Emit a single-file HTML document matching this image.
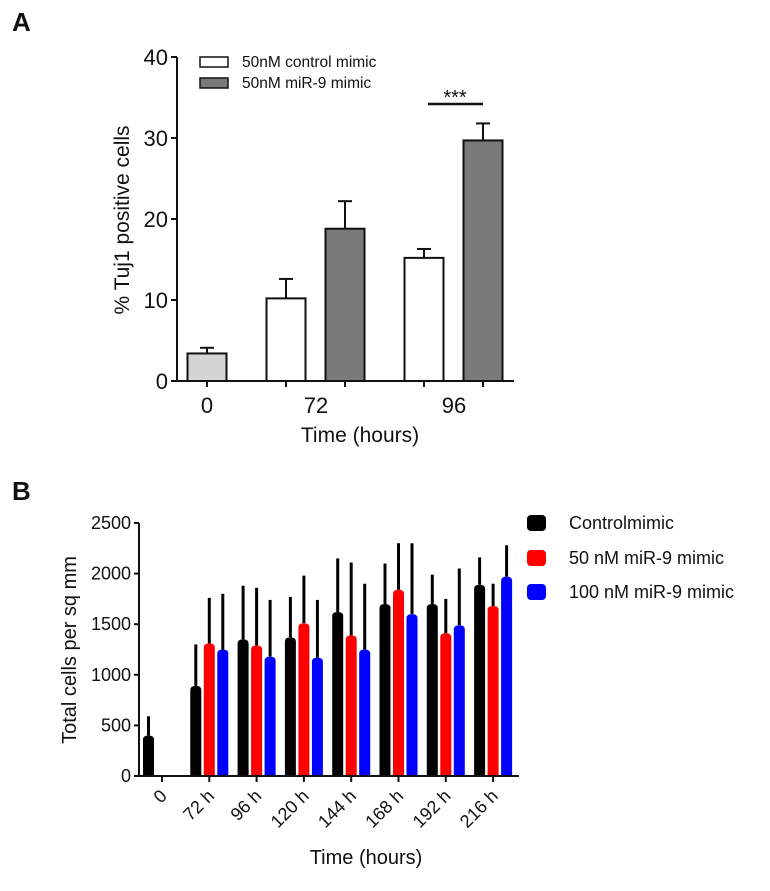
<!DOCTYPE html>
<html><head><meta charset="utf-8"><style>
body{margin:0;background:#fff;}
svg text{font-family:"Liberation Sans",Arial,sans-serif;fill:#111;}
</style></head><body>
<svg id="chart" width="770" height="886" viewBox="0 0 770 886" xmlns="http://www.w3.org/2000/svg">
<text x="12" y="31" font-size="26" font-weight="bold">A</text>
<text x="12" y="500" font-size="26" font-weight="bold">B</text>
<g id="pa"></g>
<g id="pb"></g>
</svg>
<script>
// Panel A data
const aCategories=["0","72","96"];
const aControl=[3.4,10.2,15.2];
const aControlErr=[4.1,12.6,16.3];
const aMir=[null,18.8,29.7];
const aMirErr=[null,22.2,31.8];
const aTicks=[0,10,20,30,40];
// Panel B data
const bCategories=["0","72 h","96 h","120 h","144 h","168 h","192 h","216 h"];
const bControl=[400,890,1350,1370,1620,1700,1700,1890];
const bControlErr=[590,1300,1880,1770,2150,2100,1990,2160];
const b50=[null,1310,1290,1510,1390,1840,1410,1680];
const b50Err=[null,1760,1860,1980,2110,2300,1750,1900];
const b100=[null,1250,1180,1170,1250,1600,1490,1970];
const b100Err=[null,1800,1740,1740,1900,2300,2050,2280];
const bTicks=[0,500,1000,1500,2000,2500];

const NS="http://www.w3.org/2000/svg";
function mk(p,t,a){const e=document.createElementNS(NS,t);for(const k in a)e.setAttribute(k,a[k]);p.appendChild(e);return e;}

// ---- Panel A
const pa=document.getElementById('pa');
const ay=v=>381-v*8.1;
const aCenters=[207,316,454];
for(const t of aTicks){
 const l=mk(pa,'line',{x1:171,x2:177,y1:ay(t),y2:ay(t),stroke:'#111','stroke-width':2});
 
 const tx=mk(pa,'text',{x:168,y:ay(t)+8,'font-size':22,'text-anchor':'end'});tx.textContent=t;
 
}
aCategories.forEach((c,i)=>{
 const cx=aCenters[i];
 const bars=[];
 if(aMir[i]==null){bars.push([cx,aControl[i],aControlErr[i],'#d4d4d4']);}
 else{bars.push([cx-30,aControl[i],aControlErr[i],'#fff']);bars.push([cx+29,aMir[i],aMirErr[i],'#7a7a7a']);}
 for(const [bx,v,e,f] of bars){
  const el=mk(pa,'line',{x1:bx,x2:bx,y1:ay(v),y2:ay(e),stroke:'#111','stroke-width':2});
  
  const cap=mk(pa,'line',{x1:bx-7,x2:bx+7,y1:ay(e),y2:ay(e),stroke:'#111','stroke-width':2});
  
  const r=mk(pa,'rect',{x:bx-19.5,y:ay(v),width:39,height:381-ay(v),fill:f,stroke:'#111','stroke-width':2});
  
  const tk=mk(pa,'line',{x1:bx,x2:bx,y1:381,y2:387,stroke:'#111','stroke-width':2});
  
 }
 const tl=mk(pa,'text',{x:cx,y:413,'font-size':22,'text-anchor':'middle'});tl.textContent=c;
 
});
let e;
e=mk(pa,'line',{x1:177,x2:177,y1:ay(40),y2:382,stroke:'#111','stroke-width':2});
e=mk(pa,'line',{x1:176,x2:514,y1:381,y2:381,stroke:'#111','stroke-width':2});
e=mk(pa,'line',{x1:428,x2:483,y1:104,y2:104,stroke:'#111','stroke-width':2.5});
e=mk(pa,'text',{x:455,y:104,'font-size':20,'text-anchor':'middle'});e.textContent='***';
e=mk(pa,'text',{x:360,y:442,'font-size':21,'text-anchor':'middle'});e.textContent='Time (hours)';
e=mk(pa,'text',{x:0,y:0,'font-size':21,'text-anchor':'middle',transform:'translate(129,220) rotate(-90)'});e.textContent='% Tuj1 positive cells';
e=mk(pa,'rect',{x:200,y:57,width:28,height:10,fill:'#fff',stroke:'#111','stroke-width':1.5});
e=mk(pa,'text',{x:242,y:67,'font-size':15.5});e.textContent='50nM control mimic';
e=mk(pa,'rect',{x:200,y:78,width:28,height:10,fill:'#7a7a7a',stroke:'#111','stroke-width':1.5});
e=mk(pa,'text',{x:242,y:88,'font-size':15.5});e.textContent='50nM miR-9 mimic';

// ---- Panel B
const pb=document.getElementById('pb');
const by=v=>776-v*0.1012;
const bx=i=>162+i*47.3;
for(const t of bTicks){
 const l=mk(pb,'line',{x1:134,x2:139,y1:by(t),y2:by(t),stroke:'#111','stroke-width':2});
 
 const tx=mk(pb,'text',{x:131,y:by(t)+6,'font-size':18,'text-anchor':'end'});tx.textContent=t;
 
}
const series=[[bControl,bControlErr,'#000',-13.5,'control'],[b50,b50Err,'#f00',0,'50nm'],[b100,b100Err,'#00f',13.5,'100nm']];
bCategories.forEach((c,i)=>{
 for(const [vals,errs,col,off,nm] of series){
  const v=vals[i];if(v==null)continue;
  const x=bx(i)+off;
  const el=mk(pb,'line',{x1:x,x2:x,y1:by(v),y2:by(errs[i]),stroke:'#000','stroke-width':3});
  
  const r=mk(pb,'path',{d:`M${x-5.5},776 V${by(v)+4} Q${x-5.5},${by(v)} ${x},${by(v)} Q${x+5.5},${by(v)} ${x+5.5},${by(v)+4} V776 Z`,fill:col});
  
 }
 const tk=mk(pb,'line',{x1:bx(i),x2:bx(i),y1:776,y2:782,stroke:'#111','stroke-width':2});
 
 const tl=mk(pb,'text',{x:0,y:0,'font-size':18,'text-anchor':'end',transform:`translate(${bx(i)+6},${797}) rotate(-45)`});tl.textContent=c;
 
});
e=mk(pb,'line',{x1:139,x2:139,y1:by(2500),y2:777,stroke:'#111','stroke-width':2});
e=mk(pb,'line',{x1:138,x2:519,y1:776,y2:776,stroke:'#111','stroke-width':2});
e=mk(pb,'text',{x:366,y:864,'font-size':20,'text-anchor':'middle'});e.textContent='Time (hours)';
e=mk(pb,'text',{x:0,y:0,'font-size':20,'text-anchor':'middle',transform:'translate(76,650) rotate(-90)'});e.textContent='Total cells per sq mm';
const leg=[['#000','Controlmimic',523],['#f00','50 nM miR-9 mimic',558],['#00f','100 nM miR-9 mimic',592]];
for(const [col,lab,y] of leg){
 const r=mk(pb,'rect',{x:527,y:y-8,width:19,height:16,rx:4,fill:col});
 
 const t=mk(pb,'text',{x:569,y:y+6,'font-size':18});t.textContent=lab;
 
}
</script>
</body></html>
